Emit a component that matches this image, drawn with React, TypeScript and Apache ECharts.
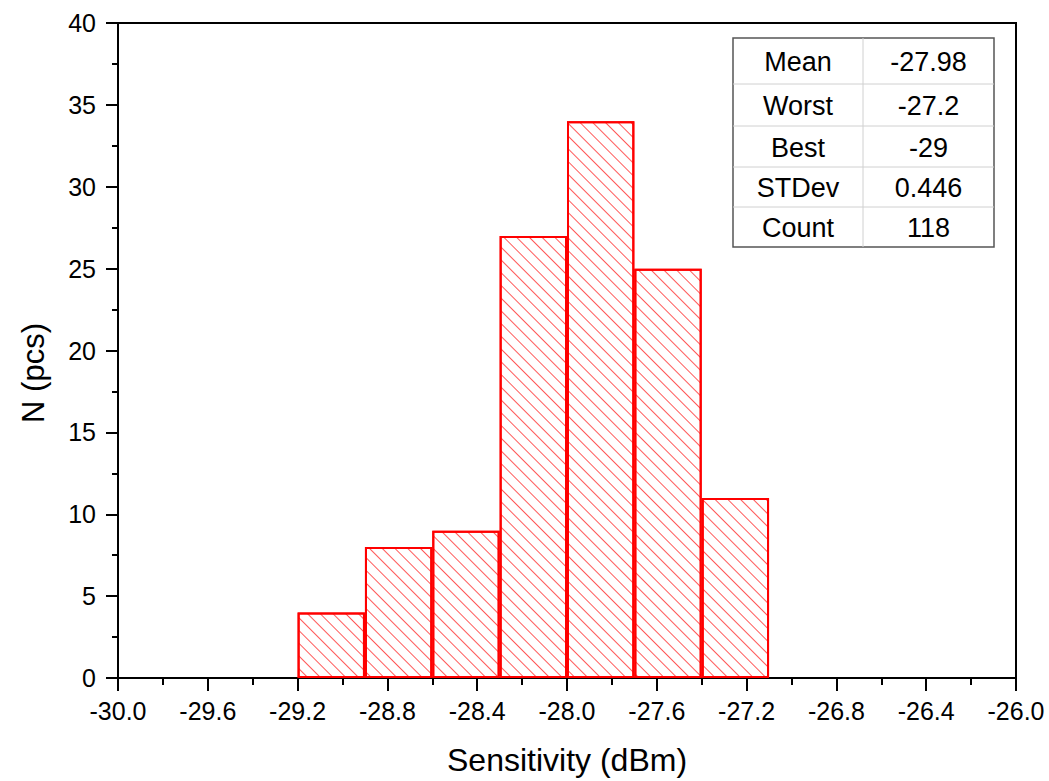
import React, { useEffect, useRef } from "react";
import * as echarts from "echarts";

const binStarts = [-29.2, -28.9, -28.6, -28.3, -28.0, -27.7, -27.4];
const binWidth = 0.3;
const counts = [4, 8, 9, 27, 34, 25, 11];
const statLabels = ["Mean", "Worst", "Best", "STDev", "Count"];
const statValues = ["-27.98", "-27.2", "-29", "0.446", "118"];
const xTitle = "Sensitivity (dBm)";
const yTitle = "N (pcs)";

const FONT = "Liberation Sans, Arial, sans-serif";

export default function App() {
  const ref = useRef<HTMLDivElement>(null);
  useEffect(() => {
    if (!ref.current) return;
    const chart = echarts.init(ref.current, undefined, { renderer: "svg" });
    const data = binStarts.map((s, i) => [s + binWidth / 2, counts[i]]);

    // table geometry
    const tx0 = 733, tx1 = 863, tx2 = 994;
    const rowYs = [38, 84, 126, 167, 207, 247];
    const graphics: any[] = [];
    graphics.push({
      type: "rect",
      shape: { x: tx0, y: rowYs[0], width: tx2 - tx0, height: rowYs[5] - rowYs[0] },
      style: { fill: "#fff", stroke: "#555", lineWidth: 1.5 },
      z: 100,
    });
    graphics.push({
      type: "line",
      shape: { x1: tx1, y1: rowYs[0], x2: tx1, y2: rowYs[5] },
      style: { stroke: "#d0d0d0", lineWidth: 1 },
      z: 101,
    });
    for (let r = 1; r < 5; r++) {
      graphics.push({
        type: "line",
        shape: { x1: tx0, y1: rowYs[r], x2: tx2, y2: rowYs[r] },
        style: { stroke: "#d0d0d0", lineWidth: 1 },
        z: 101,
      });
    }
    statLabels.forEach((lab, r) => {
      const cy = (rowYs[r] + rowYs[r + 1]) / 2 + 1;
      graphics.push({
        type: "text",
        x: (tx0 + tx1) / 2,
        y: cy,
        style: { text: lab, font: `27px ${FONT}`, fill: "#000", align: "center", verticalAlign: "middle" },
        z: 102,
      });
      graphics.push({
        type: "text",
        x: (tx1 + tx2) / 2,
        y: cy,
        style: { text: statValues[r], font: `27px ${FONT}`, fill: "#000", align: "center", verticalAlign: "middle" },
        z: 102,
      });
    });
    graphics.push({
      type: "text",
      x: 33,
      y: 373,
      rotation: Math.PI / 2,
      style: { text: yTitle, font: `31px ${FONT}`, fill: "#000", align: "center", verticalAlign: "middle" },
      z: 102,
    });

    chart.setOption({
      animation: false,
      backgroundColor: "#fff",
      textStyle: { fontFamily: FONT },
      grid: {
        left: 118,
        top: 23,
        right: 33,
        bottom: 100,
        show: true,
        borderColor: "#000",
        borderWidth: 2,
        backgroundColor: "transparent",
      },
      xAxis: {
        type: "value",
        min: -30,
        max: -26,
        interval: 0.4,
        name: xTitle,
        nameLocation: "middle",
        nameGap: 66,
        nameTextStyle: { fontSize: 32, color: "#000", fontFamily: FONT },
        axisLine: { show: true, onZero: false, lineStyle: { color: "#000", width: 2 } },
        axisTick: { show: true, inside: false, length: 13, lineStyle: { color: "#000", width: 2 } },
        minorTick: { show: true, splitNumber: 2, length: 7, lineStyle: { color: "#000", width: 2 } },
        axisLabel: {
          fontSize: 25,
          color: "#000",
          margin: 20,
          formatter: (v: number) => v.toFixed(1),
        },
        splitLine: { show: false },
      },
      yAxis: {
        type: "value",
        min: 0,
        max: 40,
        interval: 5,
        axisLine: { show: true, lineStyle: { color: "#000", width: 2 } },
        axisTick: { show: true, inside: false, length: 12, lineStyle: { color: "#000", width: 2 } },
        minorTick: { show: true, splitNumber: 2, length: 6, lineStyle: { color: "#000", width: 2 } },
        axisLabel: { fontSize: 25, color: "#000", margin: 22 },
        splitLine: { show: false },
      },
      series: [
        {
          type: "bar",
          data,
          barWidth: "100%",
          itemStyle: {
            color: "#fff",
            borderColor: "#ff0000",
            borderWidth: 2,
            decal: {
              symbol: "rect",
              symbolSize: 1,
              dashArrayX: [1, 0],
              dashArrayY: [1, 7.5],
              rotation: Math.PI / 4,
              color: "rgba(255,0,0,0.65)",
            },
          },
        },
      ],
      graphic: graphics,
    });
    return () => chart.dispose();
  }, []);
  return (
    <div
      ref={ref}
      style={{ position: "fixed", left: 0, top: 0, width: 1049, height: 781 }}
    />
  );
}
